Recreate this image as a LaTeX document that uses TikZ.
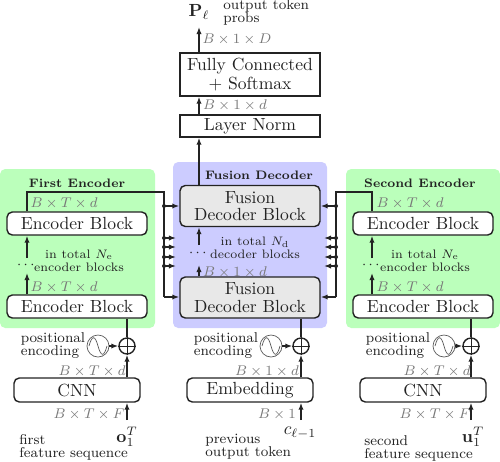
\documentclass[tikz,border=0pt]{standalone}
\usepackage{amsmath,amssymb}
\usepackage{xcolor}
\usetikzlibrary{arrows.meta,positioning,calc}
\definecolor{softgreen}{RGB}{187,255,187}
\definecolor{softblue}{RGB}{204,204,255}
\definecolor{softgray}{RGB}{232,232,232}
\definecolor{ink}{RGB}{35,35,35}
\definecolor{dimgray}{RGB}{120,120,120}
\newcommand{\captionsize}{\fontsize{8.1}{7.4}\selectfont}
\newcommand{\notesize}{\fontsize{7}{7.4}\selectfont}
\newcommand{\blocksize}{\fontsize{10}{10}\selectfont}
\newcommand{\topsize}{\fontsize{10}{10.6}\selectfont}

\begin{document}
\begin{tikzpicture}[
  x=0.02cm, y=-0.02cm,
  arrow/.style={-{Latex[length=4pt,width=3pt]}, thick, ink},
  wire/.style={thick, ink},
  panel/.style={rounded corners=3pt},
  enc_box/.style={draw=ink, thick, rounded corners=3pt, fill=white, text=ink, minimum width=2.8cm, minimum height=0.46cm, inner sep=0pt},
  fus_box/.style={enc_box, fill=softgray, minimum height=0.82cm, align=center, font=\blocksize},
  top_box/.style={draw=ink, thick, fill=white, text=ink, minimum width=2.8cm, inner sep=0pt, align=center, font=\topsize},
  inp_box/.style={enc_box, minimum width=2.52cm, minimum height=0.48cm},
  plus_node/.style={circle, draw=ink, thick, minimum size=0.32cm, inner sep=0pt},
  sine_node/.style={circle, draw=ink!75, minimum size=0.44cm, inner sep=0pt},
  dim_label/.style={font=\footnotesize, dimgray},
  note/.style={font=\notesize, ink, align=center, inner sep=0pt},
  title_text/.style={font=\notesize\bfseries, ink, inner sep=0pt},
  cap_text/.style={font=\captionsize, ink, align=left, inner sep=0pt},
  junction/.style={fill=ink, circle, inner sep=0pt, minimum size=0.08cm}
]
\useasboundingbox (0,0) rectangle (500,461);

% Background panels
\fill[softgreen, panel] (0,169) rectangle (155,328);
\fill[softblue, panel] (173,162) rectangle (327,328);
\fill[softgreen, panel] (346,169) rectangle (500,328);

% Output stack
\node[top_box, minimum height=0.86cm] (fc) at (250,74.5) {Fully Connected\\+ Softmax};
\node[top_box, minimum height=0.44cm] (norm) at (250,126) {Layer Norm};
\node[inner sep=0pt, ink] (probs) at (199,12) {$\mathbf{P}_\ell$};
\node[cap_text, anchor=west] (probstext) at (223,12.5) {output token\\probs};

% First Encoder
\node[title_text] (enc1title) at (77,183) {First Encoder};
\node[enc_box] (enc1top) at (77,223.5) {Encoder Block};
\node[enc_box] (enc1low) at (77,306.5) {Encoder Block};
\node[note] (enc1note) at (79,260.5) {in total $N_\mathrm{e}$\\encoder blocks};

% Fusion Decoder
\node[title_text] (dectitle) at (259,175) {Fusion Decoder};
\node[fus_box] (dectop) at (250,206) {Fusion\\Decoder Block};
\node[fus_box] (declow) at (250,297.5) {Fusion\\Decoder Block};
\node[note] (decnote) at (255,248) {in total $N_\mathrm{d}$\\decoder blocks};

% Second Encoder
\node[title_text] (enc2title) at (420,183) {Second Encoder};
\node[enc_box] (enc2top) at (423,223.5) {Encoder Block};
\node[enc_box] (enc2low) at (423,306.5) {Encoder Block};
\node[note] (enc2note) at (425,260.5) {in total $N_\mathrm{e}$\\encoder blocks};

% Input columns
\foreach \n/\bx/\px/\sx/\tx/\lbl in {a/77/127/98/53/CNN, b/250/301/271/226/Embedding, c/423/471/444/398/CNN}{
  \node[inp_box] (in\n) at (\bx,390) {\lbl};
  \node[plus_node] (plus\n) at (\px,346) {};
  \node[sine_node] (sine\n) at (\sx,346) {};
  \node[cap_text] (pos\n) at (\tx,346) {positional\\encoding};
  \draw[ink, thin] (plus\n.north) -- (plus\n.south) (plus\n.west) -- (plus\n.east);
  \draw[ink!75] ([xshift=-0.18cm]sine\n.center) .. controls +(3,-11) and +(-3,-11) .. (sine\n.center)
    .. controls +(3,11) and +(-3,11) .. ([xshift=0.18cm]sine\n.center);
  \draw[arrow] (sine\n) -- (plus\n);
  \draw[arrow] (plus\n |- in\n.north) -- (plus\n);
}

% Input labels
\node[inner sep=0pt, ink] (srca) at (127,437) {$\mathbf{o}_1^T$};
\node[inner sep=0pt, ink] (srcb) at (300,433) {$c_{\ell-1}$};
\node[inner sep=0pt, ink] (srcc) at (473,437) {$\mathbf{u}_1^T$};
\node[cap_text, anchor=west] (capa) at (19,447.5) {first\\feature sequence};
\node[cap_text, anchor=west] (capb) at (205,446.5) {previous\\output token};
\node[cap_text, anchor=west] (capc) at (364,448.5) {second\\feature sequence};

% Dimension labels
\node[dim_label] (d1) at (237,39) {$B \times 1 \times D$};
\node[dim_label] (d2) at (235,105) {$B \times 1 \times d$};
\node[dim_label] (d3) at (64,203) {$B \times T \times d$};
\node[dim_label] (d4) at (64,287) {$B \times T \times d$};
\node[dim_label] (d5) at (235,272) {$B \times 1 \times d$};
\node[dim_label] (d6) at (410,203) {$B \times T \times d$};
\node[dim_label] (d7) at (410,287) {$B \times T \times d$};
\node[dim_label] (d8) at (92,371) {$B \times T \times d$};
\node[dim_label] (d9) at (267,371) {$B \times 1 \times d$};
\node[dim_label] (d10) at (437,371) {$B \times T \times d$};
\node[dim_label] (d11) at (89,414) {$B \times T \times F$};
\node[dim_label] (d12) at (277,414) {$B \times 1$};
\node[dim_label] (d13) at (435,414) {$B \times T \times F$};

% Dots between blocks
\node[ink, inner sep=0pt, font=\captionsize] (dots1) at (27,265.5) {$\cdots$};
\node[ink, inner sep=0pt, font=\captionsize] (dots2) at (199,253.5) {$\cdots$};
\node[ink, inner sep=0pt, font=\captionsize] (dots3) at (372,265.5) {$\cdots$};

% Free ends of the arrows around the dots
\coordinate (dots1a) at (27,273);
\coordinate (dots1b) at (27,258);
\coordinate (dots2a) at (199,265);
\coordinate (dots2b) at (199,245);
\coordinate (dots3a) at (372,273);
\coordinate (dots3b) at (372,258);
\coordinate (fcout) at (199,27);

% Stack arrows
\draw[arrow] (enc1low.north -| dots1a) -- (dots1a);
\draw[arrow] (dots1b) -- (enc1top.south -| dots1b);
\draw[arrow] (declow.north -| dots2a) -- (dots2a);
\draw[arrow] (dots2b) -- (dectop.south -| dots2b);
\draw[arrow] (enc2low.north -| dots3a) -- (dots3a);
\draw[arrow] (dots3b) -- (enc2top.south -| dots3b);
\draw[arrow] (dectop.north -| fcout) -- (norm.south -| fcout);
\draw[arrow] (norm.north -| fcout) -- (fc.south -| fcout);
\draw[arrow] (fc.north -| fcout) -- (fcout);

% Plus outputs and inputs
\draw[wire] (plusa) -- (enc1low.south -| plusa);
\draw[wire] (plusb) -- (declow.south -| plusb);
\draw[wire] (plusc) -- (enc2low.south -| plusc);
\coordinate (srca_top) at (127,420);
\coordinate (srcb_top) at (301,420);
\coordinate (srcc_top) at (471,420);
\draw[arrow] (srca_top) -- (ina.south -| srca_top);
\draw[arrow] (srcb_top) -- (inb.south -| srcb_top);
\draw[arrow] (srcc_top) -- (inc.south -| srcc_top);

% Encoder buses
\coordinate (busL) at (164,192);
\coordinate (busR) at (336,192);
\coordinate (busLlow) at (164,297);
\coordinate (busRlow) at (336,297);
\draw[wire] (enc1top.north -| dots1a) |- (busL) -- (busLlow);
\draw[arrow] (busLlow) -- (busLlow -| declow.west);
\draw[wire] (enc2top.north -| dots3a) |- (busR) -- (busRlow);
\draw[arrow] (busRlow) -- (busRlow -| declow.east);
\foreach \i/\yy in {1/206, 2/238, 3/247, 4/257, 5/266}{
  \node[junction] (jl\i) at (164,\yy) {};
  \node[junction] (jr\i) at (336,\yy) {};
  \coordinate (tl\i) at (176,\yy);
  \coordinate (tr\i) at (324,\yy);
}
\draw[arrow] (jl1.center) -- (jl1 -| dectop.west);
\draw[arrow] (jr1.center) -- (jr1 -| dectop.east);
\foreach \i in {2,3,4,5}{
  \draw[arrow] (jl\i.center) -- (tl\i);
  \draw[arrow] (jr\i.center) -- (tr\i);
}

\end{tikzpicture}
\end{document}
